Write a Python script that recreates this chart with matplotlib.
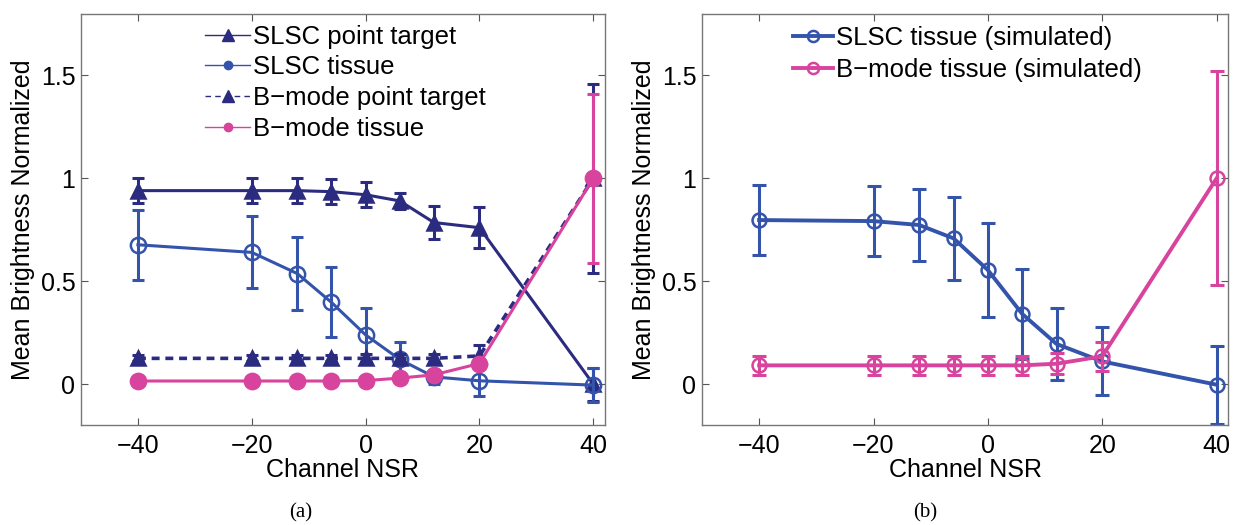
import matplotlib
matplotlib.use("Agg")
import matplotlib.pyplot as plt
from matplotlib.lines import Line2D

plt.rcParams["font.family"] = ["Liberation Sans", "DejaVu Sans"]

NAVY = "#2b2b80"
BLUE = "#3354aa"
PINK = "#d8439d"

nsr = [-40, -20, -12, -6, 0, 6, 12, 20, 40]

# panel (a): measured
slsc_point = [0.94, 0.94, 0.94, 0.935, 0.92, 0.89, 0.785, 0.76, 0.0]
slsc_point_err = [0.06, 0.06, 0.06, 0.06, 0.06, 0.04, 0.08, 0.10, 0.08]
slsc_tissue = [0.677, 0.64, 0.537, 0.397, 0.239, 0.12, 0.035, 0.016, -0.005]
slsc_tissue_err = [0.17, 0.175, 0.177, 0.17, 0.13, 0.085, 0.035, 0.075, 0.082]
bmode_point = [0.125, 0.125, 0.125, 0.125, 0.125, 0.125, 0.125, 0.137, 1.0]
bmode_point_err = [0.015, 0.015, 0.015, 0.015, 0.02, 0.02, 0.02, 0.055, 0.46]
bmode_tissue = [0.015, 0.015, 0.015, 0.015, 0.017, 0.029, 0.045, 0.10, 1.0]
bmode_tissue_err = [0.005, 0.005, 0.005, 0.005, 0.005, 0.008, 0.01, 0.02, 0.41]

# panel (b): simulated
sim_slsc = [0.797, 0.792, 0.773, 0.708, 0.554, 0.341, 0.195, 0.11, -0.003]
sim_slsc_err = [0.168, 0.17, 0.177, 0.2, 0.23, 0.22, 0.175, 0.165, 0.19]
sim_bmode = [0.091, 0.091, 0.091, 0.091, 0.091, 0.091, 0.099, 0.135, 1.0]
sim_bmode_err = [0.045, 0.045, 0.045, 0.045, 0.045, 0.045, 0.05, 0.07, 0.52]

xticks = [-40, -20, 0, 20, 40]
yticks = [0, 0.5, 1, 1.5]
ytick_labels = ["0", "0.5", "1", "1.5"]

FS = 18
LEG_FS = 18.5

fig = plt.figure(figsize=(12.33, 5.25), dpi=100)
ax_a = fig.add_axes([0.0657, 0.19, 0.4247, 0.784])
ax_b = fig.add_axes([0.5693, 0.19, 0.4267, 0.784])


def style_axes(ax):
    ax.set_xlim(-50, 42)
    ax.set_ylim(-0.2, 1.8)
    ax.set_xticks(xticks)
    ax.set_yticks(yticks)
    ax.set_yticklabels(ytick_labels)
    ax.tick_params(direction="in", top=True, right=True, length=5,
                   width=0.8, color="#555555", labelsize=FS, pad=4)
    ax.tick_params(axis="x", pad=6)
    for sp in ax.spines.values():
        sp.set_color("#777777")
        sp.set_linewidth(1.0)
    ax.set_xlabel("Channel NSR", fontsize=FS, labelpad=0)
    ax.set_ylabel("Mean Brightness Normalized", fontsize=FS, labelpad=4)


def series(ax, y, err, color, marker, ms, ls="-", lw=2.2, face=None, capsize=4.5, z=2):
    ax.errorbar(nsr, y, yerr=err, fmt="none", ecolor=color, elinewidth=2.2,
                capsize=capsize, capthick=2.2, zorder=z)
    ax.plot(nsr, y, color=color, linestyle=ls, linewidth=lw, marker=marker,
            markersize=ms, markerfacecolor=face if face else color,
            markeredgecolor=color, markeredgewidth=1.8, zorder=z + 0.5)


# panel (a)
series(ax_a, slsc_point, slsc_point_err, NAVY, "^", 10, z=2)
series(ax_a, slsc_tissue, slsc_tissue_err, BLUE, "o", 11, face="none", z=3)
series(ax_a, bmode_point, bmode_point_err, NAVY, "^", 10, ls=(0, (2.2, 1.6)), lw=2.6, z=4)
series(ax_a, bmode_tissue, bmode_tissue_err, PINK, "o", 11, z=5)
style_axes(ax_a)

handles_a = [
    Line2D([], [], color=NAVY, lw=1, marker="^", ms=8),
    Line2D([], [], color=BLUE, lw=1, marker="o", ms=6, markerfacecolor=BLUE,
           markeredgecolor=BLUE),
    Line2D([], [], color=NAVY, lw=1, ls=(0, (4, 3)), marker="^", ms=8),
    Line2D([], [], color=PINK, lw=1, marker="o", ms=6),
]
labels_a = ["SLSC point target", "SLSC tissue", "B\u2212mode point target", "B\u2212mode tissue"]
ax_a.legend(handles_a, labels_a, loc="upper left", bbox_to_anchor=(0.237, 0.973),
            frameon=False, fontsize=LEG_FS, handlelength=1.75, handletextpad=0.12,
            labelspacing=0.26, borderpad=0, borderaxespad=0)

# panel (b)
series(ax_b, sim_slsc, sim_slsc_err, BLUE, "o", 10, lw=2.8, face="none", capsize=5, z=2)
series(ax_b, sim_bmode, sim_bmode_err, PINK, "o", 10, lw=2.8, face="none", capsize=5, z=3)
style_axes(ax_b)

handles_b = [
    Line2D([], [], color=BLUE, lw=2.8, marker="o", ms=8, markerfacecolor="none",
           markeredgewidth=1.8),
    Line2D([], [], color=PINK, lw=2.8, marker="o", ms=8, markerfacecolor="none",
           markeredgewidth=1.8),
]
labels_b = ["SLSC tissue (simulated)", "B\u2212mode tissue (simulated)"]
ax_b.legend(handles_b, labels_b, loc="upper left", bbox_to_anchor=(0.173, 0.969),
            frameon=False, fontsize=LEG_FS, handlelength=1.55, handletextpad=0.12,
            labelspacing=0.30, borderpad=0, borderaxespad=0)

fig.text(0.2435, 0.024, "(a)", ha="center", va="center", fontsize=15,
         family=["Liberation Serif", "DejaVu Serif"])
fig.text(0.750, 0.024, "(b)", ha="center", va="center", fontsize=15,
         family=["Liberation Serif", "DejaVu Serif"])

fig.savefig("out.png", dpi=100)
